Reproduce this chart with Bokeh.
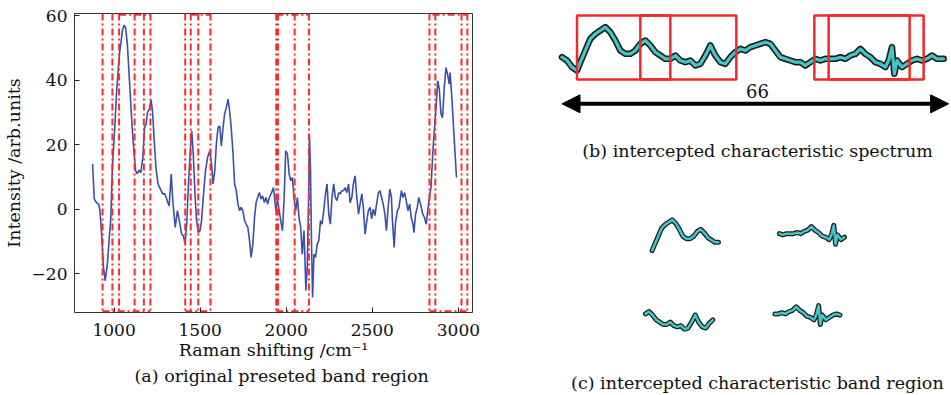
import numpy as np
from bokeh.plotting import figure
from bokeh.layouts import row, column
from bokeh.models import Title, Label, Arrow, NormalHead, Range1d, Span
from bokeh.embed import file_html
from bokeh.resources import INLINE

FONT = "DejaVu Serif"

# ---------------- (a) original spectrum ----------------
raman_shift = [875, 885, 898, 910, 918, 929, 938, 948, 961, 981, 990, 1004, 1015, 1025, 1033, 1040,
               1048, 1058, 1067, 1077, 1086, 1096, 1105, 1115, 1125, 1134, 1144, 1155, 1167, 1177,
               1186, 1194, 1205, 1215, 1223, 1232, 1243, 1255, 1269, 1282, 1293, 1303, 1312, 1320,
               1332, 1341, 1355, 1368, 1389, 1393, 1403, 1412, 1422, 1431, 1445, 1451, 1460, 1470,
               1479, 1489, 1499, 1508, 1518, 1531, 1543, 1556, 1566, 1575, 1585, 1594, 1604, 1614,
               1623, 1633, 1642, 1652, 1662, 1671, 1681, 1691, 1700, 1710, 1719, 1729, 1738, 1748,
               1758, 1767, 1777, 1787, 1796, 1806, 1816, 1825, 1834, 1844, 1854, 1863, 1873, 1882,
               1892, 1902, 1915, 1926, 1940, 1949, 1959, 1968, 1978, 1988, 1997, 2007, 2017, 2026,
               2036, 2045, 2055, 2065, 2074, 2084, 2093, 2103, 2109, 2114, 2122, 2130, 2135, 2141,
               2147, 2153, 2161, 2170, 2180, 2189, 2199, 2208, 2218, 2228, 2237, 2247, 2256, 2266,
               2276, 2285, 2295, 2305, 2314, 2323, 2333, 2342, 2352, 2362, 2371, 2381, 2390, 2400,
               2410, 2420, 2429, 2439, 2448, 2458, 2468, 2477, 2487, 2496, 2506, 2515, 2525, 2535,
               2544, 2554, 2563, 2573, 2582, 2592, 2602, 2611, 2617, 2627, 2634, 2646, 2655, 2669,
               2678, 2688, 2697, 2707, 2717, 2726, 2736, 2742, 2751, 2761, 2770, 2780, 2793, 2803,
               2813, 2822, 2832, 2841, 2851, 2860, 2870, 2880, 2889, 2899, 2908, 2918, 2928, 2937,
               2947, 2952, 2962, 2972, 2981, 2989]
intensity = [14.0, 3.1, 2.0, 1.5, -0.5, -8.8, -18.0, -22.2, -17.0, -2.6, 12.9, 25.3, 36.7, 43.9, 49.0, 51.7,
             55.3, 57.1, 56.3, 51.2, 42.9, 33.6, 25.3, 18.1, 11.9, 10.9, 12.1, 11.3, 16.0, 25.3,
             26.4, 30.0, 31.0, 33.8, 30.5, 22.2, 12.9, 7.8, 6.2, 4.7, 4.8, 3.6, 2.0, 1.0,
             10.9, 2.6, -5.7, -0.5, -6.7, -7.8, -8.3, -10.9, -4.7, 6.7, 20.2, 24.3, 17.1, 4.7,
             -3.6, -7.3, -6.7, -3.6, 3.6, 11.9, 16.0, 18.1, 14.0, 7.8, 11.9, 20.2, 25.3, 25.8,
             19.6, 25.3, 29.5, 31.5, 34.1, 30.5, 24.8, 17.1, 7.8, 5.7, 1.6, -0.5, 0.5, -0.5,
             -3.6, -4.7, -5.7, -9.8, -15.0, -10.9, -2.6, 2.0, 3.6, 5.1, 3.1, 4.1, 2.0, 3.6,
             1.6, 3.6, 5.1, 6.7, -0.5, 3.0, -0.5, -3.6, -6.7, 3.6, 18.1, 17.1, 10.9, 8.8,
             9.8, 3.6, -0.5, 3.6, -2.6, -5.7, -14.0, -6.7, -16.0, -25.3, -18.1, 3.6, 23.3, 11.9,
             -10.9, -27.4, -14.0, -15.0, -10.9, -9.8, -3.6, -4.7, -0.5, 4.7, 7.8, -1.6, -4.7, 3.6,
             7.8, 3.6, 2.6, 5.1, 4.7, 5.7, 5.7, 6.7, 5.1, 7.8, 2.0, 3.6, 7.8, 10.3,
             3.6, -1.6, 1.6, 4.7, 0.5, -7.8, -3.6, -0.5, 0.5, -3.0, 0.0, -2.0, 1.5, 5.0,
             5.7, 3.6, 1.6, -1.6, -6.7, 0.5, 6.2, 3.6, -3.6, -11.9, -4.7, -0.5, 0.5, 5.7,
             3.6, 5.1, 2.6, -0.5, 1.6, -2.6, -4.7, -7.3, -1.6, 0.5, 3.6, 1.6, -1.6, -2.6,
             -4.7, -0.5, 3.6, 6.7, 17.1, 24.3, 31.5, 39.8, 37.2, 29.5, 28.4, 37.7, 43.9, 41.9,
             38.8, 42.4, 34.6, 25.3, 17.1, 9.8]

# preset band region edges (cm-1)
band_edges = [933, 990, 1029, 1119, 1173, 1211, 1413, 1445, 1489, 1560,
              1942, 1952, 2049, 2132, 2832, 2866, 3018, 3052]
top_from = [1029, 1445, 1942, 2850]
top_to = [1211, 1560, 2132, 3052]
bottom_from = [933, 1413, 1942, 2832]
bottom_to = [1211, 1560, 2132, 3052]

x_ticks = [1000, 1500, 2000, 2500, 3000]
y_ticks = [-20, 0, 20, 40, 60]

# ---------------- (b) intercepted spectrum ----------------
b_pos = [0, 1, 2, 3, 3.67, 4.67, 5.67, 6.67, 7.67, 8.67, 9.67, 10.67, 11.67, 12.67, 13.67, 14.67,
         15.67, 16.67, 17.67, 18.67, 19.67, 20.67, 21.67, 22.67, 23.67, 24.67, 25.67, 26.67, 27.67,
         28.67, 29.67, 30.67, 31.67, 32.67, 33.67, 34.67, 35.67, 36.67, 37.67, 38.67, 39.67, 40.67,
         41.67, 42.67, 43.67, 44.67, 45.67, 46.67, 47.67, 48.67, 49.67, 50.67, 51.67, 52.67, 53.67,
         54.67, 55.67, 56.67, 57.67, 58.67, 59.67, 60.67, 61.67, 62.67, 63.67, 64.67, 65.33, 66.0,
         66.47, 67, 68, 69, 70, 71, 72, 73, 74, 75, 76.33]
b_val = [5.0, 4.0, 2.0, 1.0, 3.5, 7.0, 10.5, 12.0, 13.0, 14.0, 12.5, 10.0, 7.0, 6.0, 6.0, 7.0,
         9.0, 10.0, 8.5, 6.5, 5.5, 4.5, 4.5, 5.5, 4.0, 3.5, 4.0, 2.5, 3.0,
         5.5, 8.5, 5.5, 3.5, 3.0, 5.0, 6.5, 7.5, 7.0, 8.0, 8.5, 9.0, 9.5,
         9.0, 7.0, 5.0, 4.5, 4.0, 3.5, 3.5, 2.5, 3.5, 4.5, 4.0, 4.5, 4.5,
         4.5, 5.0, 4.5, 5.5, 6.0, 7.5, 6.0, 5.0, 3.5, 3.0, 2.0, 4.0, 8.0,
         0.0, 4.0, 2.0, 3.0, 4.0, 4.5, 4.0, 4.5, 5.5, 4.5, 4.5]
windows_lo = [3.0, 15.67, 50.47, 53.33]
windows_hi = [21.67, 34.87, 69.53, 72.33]
window_top = 17.5
window_bottom = -1.7
spectrum_length = "66"

# layout offsets of the four extracted bands in panel (c)
c_dx = [43.96, 29.4, 32.15, 27.87]
c_dy = [60.44, 25.6, 64.1, 30.1]

RED = "#ff2b2b"
BLUE = "#3a4fae"
CYAN = "#43c6c6"
DARK = "#1c1c1c"
TXT = "#111111"

# ---------------- figure (a) ----------------
pa = figure(width=485, height=395, output_backend="svg", toolbar_location=None,
            x_range=Range1d(770, 3082), y_range=Range1d(-32.1, 60.7),
            min_border_left=70, min_border_right=13, min_border_top=13, min_border_bottom=83,
            outline_line_color="#333333", outline_line_width=1)
pa.grid.visible = False
for e in band_edges:
    pa.add_layout(Span(location=e, dimension="height", line_color=RED, line_width=2,
                       line_dash="7 3 2 3"))
pa.segment(x0=top_from, x1=top_to, y0=60.3, y1=60.3, line_color=RED, line_width=2,
           line_dash="7 3 2 3")
pa.segment(x0=bottom_from, x1=bottom_to, y0=-31.7, y1=-31.7, line_color=RED, line_width=2,
           line_dash="7 3 2 3")
pa.line(raman_shift, intensity, line_color=BLUE, line_width=1.6)

pa.xaxis.ticker = x_ticks
pa.yaxis.ticker = y_ticks
pa.yaxis.major_label_overrides = {-20: "\u221220"}
for ax in (pa.xaxis[0], pa.yaxis[0]):
    ax.axis_line_color = None
    ax.major_tick_in = 5
    ax.major_tick_out = 0
    ax.major_tick_line_color = "#222222"
    ax.minor_tick_line_color = None
    ax.major_label_text_font = FONT
    ax.major_label_text_font_size = "17px"
    ax.major_label_text_color = TXT
    ax.axis_label_text_font = FONT
    ax.axis_label_text_font_size = "17.5px"
    ax.axis_label_text_font_style = "normal"
    ax.axis_label_text_color = TXT
pa.xaxis.axis_label = "Raman shifting /cm\u207b\u00b9"
pa.yaxis.axis_label = "Intensity /arb.units"
pa.xaxis.major_label_standoff = 11
pa.xaxis.axis_label_standoff = 1
pa.yaxis.major_label_standoff = 7
pa.yaxis.axis_label_standoff = 5
pa.add_layout(Title(text="(a) original preseted band region", align="left", offset=60,
                    text_font=FONT, text_font_size="17.5px", text_font_style="normal",
                    text_color=TXT, standoff=3), "below")

# ---------------- figure (b) ----------------
pb = figure(width=466, height=165, output_backend="svg", toolbar_location=None,
            x_range=Range1d(-15.3, 77.9), y_range=Range1d(-27.5, 22),
            x_axis_location=None, y_axis_location=None, min_border=0,
            outline_line_color=None)
pb.grid.visible = False
pb.line(b_pos, b_val, line_color=DARK, line_width=6.5, line_join="round", line_cap="round")
pb.line(b_pos, b_val, line_color=CYAN, line_width=3.2, line_join="round", line_cap="round")
pb.quad(left=windows_lo, right=windows_hi, top=window_top, bottom=window_bottom,
        fill_color=None, line_color="#ee2a2a", line_width=2.5)
pb.add_layout(Arrow(start=NormalHead(size=18, fill_color="black", line_color="black"),
                    end=NormalHead(size=18, fill_color="black", line_color="black"),
                    x_start=b_pos[0], y_start=-9, x_end=b_pos[-1] + 1, y_end=-9,
                    line_width=4, line_color="black"))
pb.add_layout(Label(x=39.1, y=-5, text=spectrum_length, text_align="center",
                    text_baseline="middle", text_font=FONT, text_font_size="18px",
                    text_color=TXT))
pb.add_layout(Label(x=39.1, y=-23, text="(b) intercepted characteristic spectrum",
                    text_align="center", text_baseline="middle", text_font=FONT,
                    text_font_size="17.5px", text_color=TXT))

# ---------------- figure (c) ----------------
pc = figure(width=466, height=230, output_backend="svg", toolbar_location=None,
            x_range=Range1d(0, 131.3), y_range=Range1d(0, 97.5),
            x_axis_location=None, y_axis_location=None, min_border=0,
            outline_line_color=None)
pc.grid.visible = False
bp = np.array(b_pos)
bv = np.array(b_val)
for lo, hi, dx, dy in zip(windows_lo, windows_hi, c_dx, c_dy):
    m = (bp >= lo - 0.01) & (bp <= hi + 0.01)
    xs = bp[m] + dx
    ys = bv[m] + dy
    pc.line(xs, ys, line_color=DARK, line_width=5, line_join="round", line_cap="round")
    pc.line(xs, ys, line_color=CYAN, line_width=2.5, line_join="round", line_cap="round")
pc.add_layout(Label(x=76.6, y=5.1, text="(c) intercepted characteristic band region",
                    text_align="center", text_baseline="middle", text_font=FONT,
                    text_font_size="17.5px", text_color=TXT))

layout = row(pa, column(pb, pc))
open("out.html", "w").write(file_html(layout, INLINE))
